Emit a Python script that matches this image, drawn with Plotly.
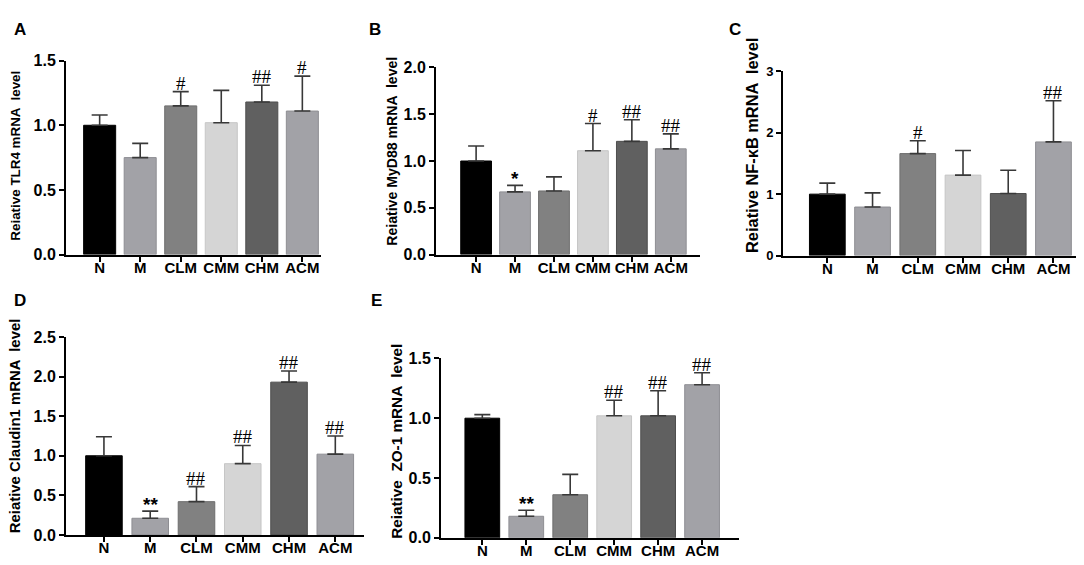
"""Five-panel mRNA expression bar chart (GraphPad-style) rebuilt in Plotly."""

import plotly.graph_objects as go

groups = ["N", "M", "CLM", "CMM", "CHM", "ACM"]

tlr4_mean = [1.00, 0.75, 1.15, 1.02, 1.18, 1.11]
tlr4_sd = [0.08, 0.11, 0.11, 0.25, 0.13, 0.27]
tlr4_sig = ["", "", "#", "", "##", "#"]

myd88_mean = [1.00, 0.67, 0.68, 1.11, 1.21, 1.13]
myd88_sd = [0.16, 0.07, 0.15, 0.29, 0.23, 0.16]
myd88_sig = ["", "*", "", "#", "##", "##"]

nfkb_mean = [1.00, 0.79, 1.66, 1.31, 1.01, 1.85]
nfkb_sd = [0.18, 0.23, 0.21, 0.40, 0.38, 0.67]
nfkb_sig = ["", "", "#", "", "", "##"]

cldn1_mean = [1.00, 0.21, 0.42, 0.90, 1.93, 1.02]
cldn1_sd = [0.24, 0.09, 0.19, 0.23, 0.14, 0.23]
cldn1_sig = ["", "**", "##", "##", "##", "##"]

zo1_mean = [1.00, 0.18, 0.36, 1.02, 1.02, 1.28]
zo1_sd = [0.03, 0.05, 0.17, 0.13, 0.21, 0.10]
zo1_sig = ["", "**", "", "##", "##", "##"]

BAR_COLORS = ["#000000", "#a2a2a7", "#818181", "#d5d5d5", "#606060", "#a2a2a7"]
EDGE_COLORS = ["#000000", "#8e8e93", "#6e6e6e", "#c6c6c6", "#4e4e4e", "#8e8e93"]
W, H = 1084, 565
FONT = "Liberation Sans, Arial, sans-serif"

# (letter, y title, means, sds, marks, y max, dtick, x px span, y px span, x range,
#  y tick size, letter position px, y title centre px, y title size)
panels = [
    ("A", "Reiative TLR4 mRNA  level", tlr4_mean, tlr4_sd, tlr4_sig,
     1.5, 0.5, (58, 313), (46, 246), (-0.83, 5.46), 16, (4, 14), (8, 144), 13.4),
    ("B", "Reiative MyD88 mRNA  level", myd88_mean, myd88_sd, myd88_sig,
     2.0, 0.5, (428, 692), (53, 246), (-1.03, 5.75), 16, (359, 14), (384, 140), 14.1),
    ("C", "Reiative NF-κB mRNA  level", nfkb_mean, nfkb_sd, nfkb_sig,
     3, 1, (775, 1083), (57, 247), (-0.98, 5.83), 13, (719, 14), (744, 134), 16.4),
    ("D", "Reiative Claudin1 mRNA  level", cldn1_mean, cldn1_sd, cldn1_sig,
     2.5, 0.5, (58, 356), (331, 535), (-0.82, 5.62), 16, (4, 293), (7, 423), 14.9),
    ("E", "Reiative  ZO-1 mRNA  level", zo1_mean, zo1_sd, zo1_sig,
     1.5, 0.5, (433, 731), (353, 538), (-0.94, 5.84), 16, (361, 293), (389, 439), 15.3),
]

fig = go.Figure()
annotations = []

for i, (letter, ytitle, mean, sd, sig, ymax, dtick, xs, ys, xr, tsize, lpos, tpos, tfs) in enumerate(panels, start=1):
    sfx = "" if i == 1 else str(i)
    fig.add_trace(
        go.Bar(
            x=groups,
            y=mean,
            width=0.79,
            marker=dict(color=BAR_COLORS, line=dict(color=EDGE_COLORS, width=1)),
            error_y=dict(
                type="data", symmetric=False, array=sd, arrayminus=[0] * len(sd),
                color="#383838", thickness=1.6, width=8,
            ),
            xaxis="x" + sfx,
            yaxis="y" + sfx,
            showlegend=False,
        )
    )
    axis_common = dict(
        showline=True, linecolor="black", linewidth=2, ticks="outside",
        ticklen=5, tickwidth=2, tickcolor="black", showgrid=False, zeroline=False,
    )
    fig.layout["xaxis" + sfx] = dict(
        axis_common,
        domain=[xs[0] / W, xs[1] / W],
        anchor="y" + sfx,
        range=list(xr),
        type="category",
        ticklabelstandoff=-7,
        tickfont=dict(family=FONT, size=15, color="black", weight="bold"),
    )
    fig.layout["yaxis" + sfx] = dict(
        axis_common,
        domain=[1 - ys[1] / H, 1 - ys[0] / H],
        anchor="x" + sfx,
        range=[0, ymax],
        dtick=dtick,
        tickformat=".1f" if dtick < 1 else "d",
        tickfont=dict(family=FONT, size=tsize, color="black", weight="bold"),
    )
    # y axis title, placed where the original has it
    annotations.append(dict(
        text=ytitle, xref="paper", yref="paper",
        x=tpos[0] / W, y=1 - tpos[1] / H, textangle=-90,
        xanchor="center", yanchor="middle", showarrow=False,
        font=dict(family=FONT, size=tfs, color="black", weight="bold"),
    ))
    # panel letter
    annotations.append(dict(
        text=letter, xref="paper", yref="paper",
        x=lpos[0] / W, y=1 - lpos[1] / H,
        xanchor="left", yanchor="middle", showarrow=False,
        font=dict(family=FONT, size=17, color="black", weight="bold"),
    ))
    # significance marks above the error bars
    for g, m, s, mark in zip(groups, mean, sd, sig):
        if not mark:
            continue
        star = "*" in mark
        annotations.append(dict(
            text=mark, x=g, y=m + s, xref="x" + sfx, yref="y" + sfx,
            xanchor="center", yanchor="bottom", showarrow=False,
            yshift=-6 if star else -4,
            font=dict(family=FONT if star else "Liberation Serif, serif",
                      size=19, color="black",
                      weight="bold" if star else "normal"),
        ))

fig.update_layout(
    width=W, height=H,
    margin=dict(l=0, r=0, t=0, b=0),
    paper_bgcolor="white", plot_bgcolor="white",
    annotations=annotations,
    font=dict(family=FONT, color="black"),
)

fig.write_html("out.html")
